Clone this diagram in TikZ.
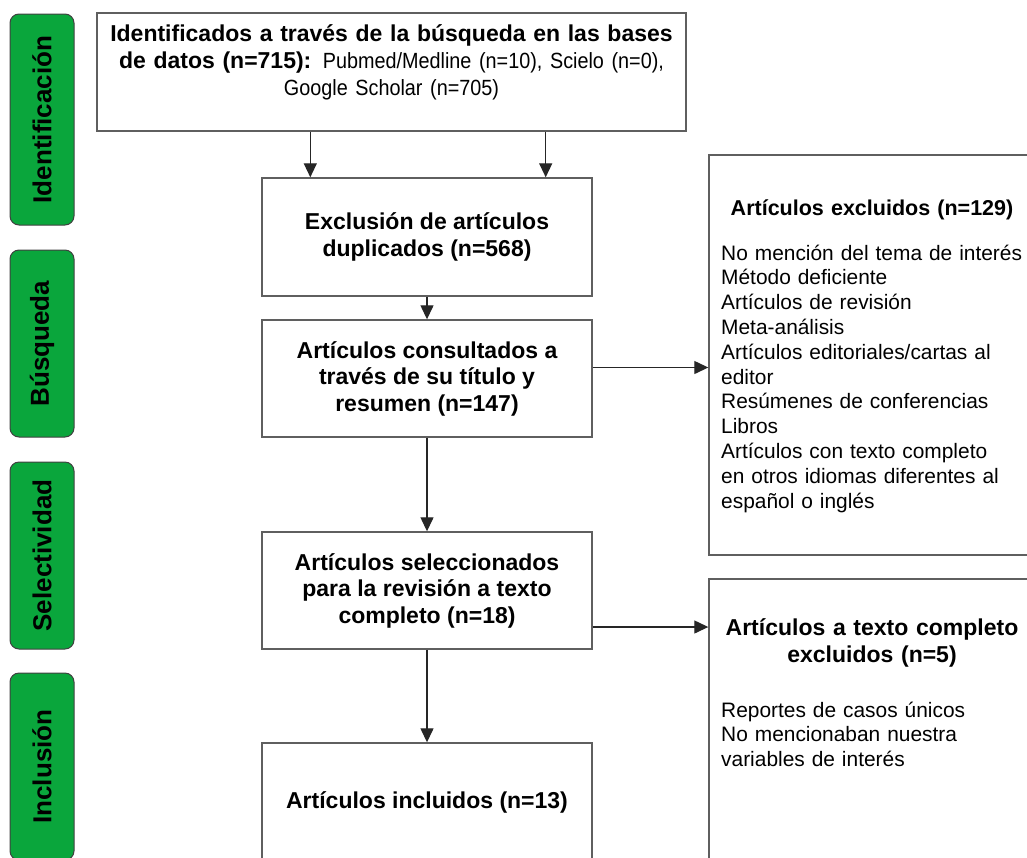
\documentclass[tikz,border=0pt]{standalone}
\usepackage{fontspec}
\setmainfont{Liberation Sans}
\newfontfamily\narrowfont[FakeStretch=0.9]{Liberation Sans}
\usetikzlibrary{arrows.meta,calc}
\definecolor{fasegreen}{RGB}{10,166,60}
\definecolor{boxgray}{RGB}{95,95,95}
\tikzset{
  fase/.style={draw=black!75, fill=fasegreen, rounded corners=9pt, line width=1pt, rotate=90,
    minimum height=64pt, inner sep=0pt, font=\fontsize{26}{30}\selectfont\bfseries},
  caja/.style={draw=boxgray, line width=1.4pt, inner sep=0pt},
  paso/.style={caja, minimum width=330pt, align=center, font=\fontsize{23}{26.5}\selectfont\bfseries},
  titulo/.style={text width=330pt, align=center, inner sep=0pt, font=\fontsize{21.5}{25}\selectfont\bfseries},
  lista/.style={text width=320pt, align=left, inner sep=0pt, font=\fontsize{20.9}{24.8}\selectfont},
  flecha/.style={-{Triangle[width=13pt,length=14pt]}, line width=1.3pt, draw=black!85},
}
\begin{document}
\begin{tikzpicture}[x=1pt,y=-1pt]
\clip (0,0) rectangle (1027,857);
% fases
\node[fase, minimum width=211pt] (fid) at (42,119.5) {Identificación};
\node[fase, minimum width=187pt] (fbu) at (42,343.5) {Búsqueda};
\node[fase, minimum width=187pt] (fse) at (42,555.5) {Selectividad};
\node[fase, minimum width=187pt] (fin) at (42,766.5) {Inclusión};
% cajas centrales
\node[caja, minimum width=589pt, minimum height=118pt] (busq) at (391.5,72) {};
\node[anchor=base, text width=585pt, align=center, inner sep=0pt,
  font=\fontsize{23}{27}\selectfont] (busqtxt) at (391.5,41)
  {{\bfseries Identificados a través de la búsqueda en las bases\\ de datos (n=715):}
   {\narrowfont\fontsize{22}{27}\selectfont Pubmed/Medline (n=10), Scielo (n=0),\\ Google Scholar (n=705)}};
\node[paso, minimum height=118pt] (dupl) at (427,237) {Exclusión de artículos\\ duplicados (n=568)};
\node[paso, minimum height=117pt] (cons) at (427,378.5) {Artículos consultados a\\ través de su título y\\ resumen (n=147)};
\node[paso, minimum height=117pt] (sel) at (427,590.5) {Artículos seleccionados\\ para la revisión a texto\\ completo (n=18)};
\node[paso, minimum height=118pt] (incl) at (427,802) {Artículos incluidos (n=13)};
% cajas de exclusion
\node[caja, minimum width=345pt, minimum height=400pt] (excl1) at (881.5,355) {};
\node[titulo, anchor=base] (excl1tit) at (872,215) {Artículos excluidos (n=129)};
\node[lista, anchor=base west] (excl1lst) at (721,260)
  {No mención del tema de interés\\ Método deficiente\\ Artículos de revisión\\ Meta-análisis\\
   Artículos editoriales/cartas al\\ editor\\ Resúmenes de conferencias\\ Libros\\
   Artículos con texto completo\\ en otros idiomas diferentes al\\ español o inglés};
\node[caja, minimum width=345pt, minimum height=301pt] (excl2) at (881.5,729.5) {};
\node[titulo, anchor=base, font=\fontsize{23}{27}\selectfont\bfseries] (excl2tit) at (872,635)
  {Artículos a texto completo\\ excluidos (n=5)};
\node[lista, anchor=base west] (excl2lst) at (721,717)
  {Reportes de casos únicos\\ No mencionaban nuestra\\ variables de interés};
% flechas
\coordinate (f1) at ($(dupl.north west)+(49,0)$);
\coordinate (f2) at ($(dupl.north east)+(-47,0)$);
\draw[flecha] (busq.south -| f1) -- (f1);
\draw[flecha] (busq.south -| f2) -- (f2);
\draw[flecha] (dupl) -- (cons);
\draw[flecha] (cons) -- (sel);
\draw[flecha] (sel) -- (incl);
\draw[flecha] ([yshift=11pt]cons.east) -- ([yshift=11pt]cons.east -| excl1.west);
\draw[flecha] ([yshift=-36.5pt]sel.east) -- ([yshift=-36.5pt]sel.east -| excl2.west);
\end{tikzpicture}
\end{document}
